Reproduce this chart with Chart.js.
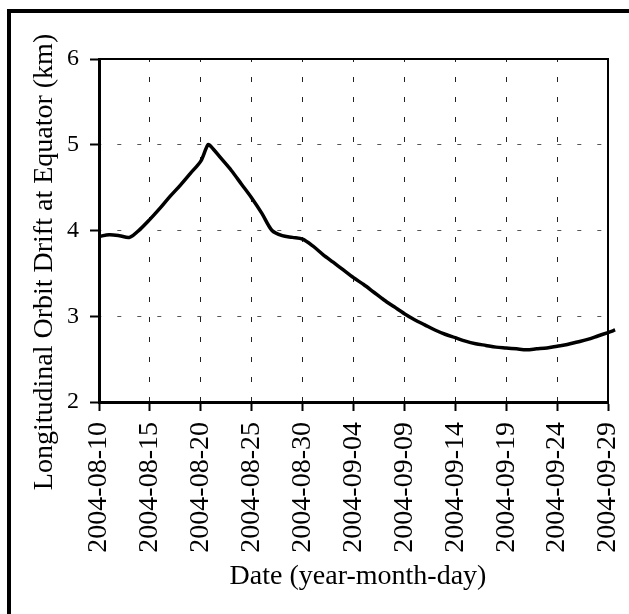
<!DOCTYPE html>
<html>
<head>
<meta charset="utf-8">
<script src="https://cdn.jsdelivr.net/npm/chart.js@4.4.0/dist/chart.umd.min.js"></script>
<style>
html, body { margin: 0; padding: 0; background: #fff; }
#wrap { position: relative; width: 629px; height: 614px; }
</style>
</head>
<body>
<div id="wrap"><canvas id="myChart"></canvas></div>
<script>
// days since 2004-08-10
const dayOffsets = [0, 1, 2, 3, 4, 5, 6, 7, 8, 9, 10, 10.7, 11, 12, 13, 14, 15, 16, 17, 18, 19, 20,
    21, 22, 23, 24, 25, 26, 27, 28, 29, 30, 31, 32, 33, 34, 35, 36, 37, 38, 39, 40,
    41, 42, 43, 44, 45, 46, 47, 48, 49, 50, 50.7]
const drift = [3.93, 3.95, 3.94, 3.92, 4.01, 4.13, 4.26, 4.40, 4.53, 4.67, 4.81, 5.00, 4.98, 4.84, 4.70, 4.54, 4.38, 4.20, 4.00, 3.94, 3.92, 3.90,
    3.82, 3.72, 3.63, 3.54, 3.45, 3.37, 3.28, 3.19, 3.11, 3.03, 2.96, 2.90, 2.84, 2.79, 2.75, 2.71, 2.68, 2.66, 2.64, 2.63,
    2.62, 2.61, 2.62, 2.63, 2.65, 2.67, 2.70, 2.73, 2.77, 2.81, 2.84]
const dateLabels = ['2004-08-10', '2004-08-15', '2004-08-20', '2004-08-25', '2004-08-30', '2004-09-04',
    '2004-09-09', '2004-09-14', '2004-09-19', '2004-09-24', '2004-09-29']
const yTitle = 'Longitudinal Orbit Drift at Equator (km)'
const xTitle = 'Date (year-month-day)'

const serif = '"Liberation Serif", "Times New Roman", serif'

const framePlugin = {
    id: 'frame',
    beforeDraw(chart) {
        const ctx = chart.ctx
        ctx.save()
        ctx.fillStyle = '#fff'
        ctx.fillRect(0, 0, chart.width, chart.height)
        ctx.fillStyle = '#000'
        ctx.fillRect(7, 9, chart.width - 7, 4)
        ctx.fillRect(7, 9, 4, chart.height - 9)
        ctx.restore()
    },
    beforeDatasetsDraw(chart) {
        const ctx = chart.ctx, a = chart.chartArea
        ctx.save()
        ctx.strokeStyle = '#000'
        ctx.lineWidth = 2
        ctx.beginPath()
        ctx.moveTo(a.left, a.top)
        ctx.lineTo(a.right, a.top)
        ctx.lineTo(a.right, a.bottom)
        ctx.stroke()
        ctx.restore()
    },
    afterDraw(chart) {
        const ctx = chart.ctx
        ctx.save()
        ctx.fillStyle = '#000'
        ctx.font = '28px ' + serif
        ctx.textAlign = 'center'
        ctx.textBaseline = 'alphabetic'
        ctx.fillText(xTitle, 358, 584)
        ctx.translate(52, 262)
        ctx.rotate(-Math.PI / 2)
        ctx.fillText(yTitle, 0, 0)
        ctx.restore()
    }
}

var ctx = document.getElementById('myChart')
var myChart = new Chart(ctx, {
    type: 'line',
    data: {
        datasets: [{
            data: dayOffsets.map((d, i) => ({x: d, y: drift[i]})),
            borderColor: '#000',
            borderWidth: 3.5,
            pointRadius: 0,
            tension: 0.3,
            fill: false,
            clip: false
        }]
    },
    options: {
        responsive: true,
        maintainAspectRatio: false,
        animation: false,
        layout: { padding: { left: 0, top: 59, right: 21, bottom: 0 } },
        plugins: { legend: { display: false }, tooltip: { enabled: false } },
        scales: {
            x: {
                type: 'linear',
                // range set here so the last point past 09-29 is still drawn
                afterDataLimits: (scale) => {
                    scale.min = 0
                    scale.max = 50
                },
                afterFit: (scale) => {
                    scale.height = 212
                    scale.paddingLeft = 0
                    scale.paddingRight = 0
                },
                ticks: {
                    stepSize: 5,
                    autoSkip: false,
                    maxRotation: 90,
                    minRotation: 90,
                    padding: 11,
                    color: '#000',
                    font: { family: serif, size: 28 },
                    callback: (v) => dateLabels[Math.round(v / 5)]
                },
                grid: { color: '#222', lineWidth: 1, tickLength: 9, tickColor: '#000', tickWidth: 2 },
                border: { display: true, color: '#000', width: 3, dash: [5, 15], dashOffset: 2 }
            },
            y: {
                min: 2,
                max: 6,
                afterFit: (scale) => {
                    scale.width = 99
                    scale.paddingTop = 0
                    scale.paddingBottom = 0
                },
                ticks: {
                    stepSize: 1,
                    padding: 11,
                    color: '#000',
                    font: { family: serif, size: 24 }
                },
                grid: { color: '#555', lineWidth: 1, tickLength: 9, tickColor: '#000', tickWidth: 2 },
                border: { display: true, color: '#000', width: 3, dash: [4, 16], dashOffset: 3.7 }
            }
        }
    },
    plugins: [framePlugin]
})
</script>
</body>
</html>
